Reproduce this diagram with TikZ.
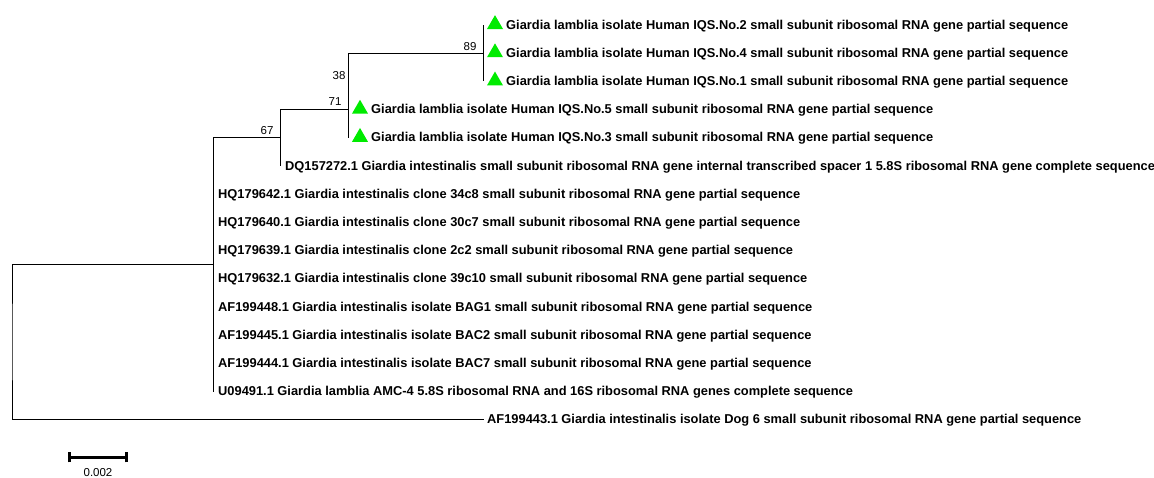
\documentclass[tikz,border=0pt]{standalone}
\usepackage{fontspec}
\setmainfont{Liberation Sans}
\usetikzlibrary{shapes.geometric}
\definecolor{marker}{RGB}{0,235,0}
\begin{document}
\begin{tikzpicture}[x=1pt,y=-1pt,
  branch/.style={line width=0.9pt, black},
  leaf/.style={anchor=base west, inner sep=0pt, font=\fontsize{12.85}{14}\selectfont\bfseries},
  boot/.style={inner sep=0pt, font=\fontsize{11.5}{12}\selectfont},
  tri/.style={regular polygon, regular polygon sides=3, minimum size=18.5pt, inner sep=0pt, fill=marker, draw=none},
  sbar/.style={line width=2.7pt, black}]
\useasboundingbox (0,0) rectangle (1154,477);

% leaf attach points
\coordinate (a0) at (483,25);
\coordinate (a1) at (483,53.2);
\coordinate (a2) at (483,81.4);
\coordinate (a3) at (348,109.6);
\coordinate (a4) at (348,137.8);
\coordinate (a5) at (280,166);
\coordinate (a6) at (213,194.2);
\coordinate (a13) at (213,391.6);
\coordinate (a14) at (484,419.8);

% internal nodes
\coordinate (n89) at (483,53.2);
\coordinate (n38) at (348,109.6);
\coordinate (n71) at (280,137.5);
\coordinate (n67) at (213,264.3);
\coordinate (R) at (12,342);

% branches
\draw[branch] (a0) -- (a2);
\draw[branch] (n89) -| (a4);
\draw[branch] (n38) -| (a5);
\draw[branch] (n71) -| (a13);
\draw[branch] (n67) -| (R) |- (a14);

% bootstrap values
\node[boot] (b89) at (470,47) {89};
\node[boot] (b38) at (339,75.5) {38};
\node[boot] (b71) at (335,102) {71};
\node[boot] (b67) at (267,131) {67};

% markers
\node[tri] (t0) at (495,24.4) {};
\node[tri] (t1) at (495,52.6) {};
\node[tri] (t2) at (495,80.8) {};
\node[tri] (t3) at (360,109) {};
\node[tri] (t4) at (360,137.2) {};

% leaf labels
\node[leaf] (l0) at (506,29) {Giardia lamblia isolate Human IQS.No.2 small subunit ribosomal RNA gene partial sequence};
\node[leaf] (l1) at (506,57.2) {Giardia lamblia isolate Human IQS.No.4 small subunit ribosomal RNA gene partial sequence};
\node[leaf] (l2) at (506,85.4) {Giardia lamblia isolate Human IQS.No.1 small subunit ribosomal RNA gene partial sequence};
\node[leaf] (l3) at (371,113.6) {Giardia lamblia isolate Human IQS.No.5 small subunit ribosomal RNA gene partial sequence};
\node[leaf] (l4) at (371,141.8) {Giardia lamblia isolate Human IQS.No.3 small subunit ribosomal RNA gene partial sequence};
\node[leaf] (l5) at (285,170) {DQ157272.1 Giardia intestinalis small subunit ribosomal RNA gene internal transcribed spacer 1 5.8S ribosomal RNA gene complete sequence};
\node[leaf] (l6) at (218,198.2) {HQ179642.1 Giardia intestinalis clone 34c8 small subunit ribosomal RNA gene partial sequence};
\node[leaf] (l7) at (218,226.4) {HQ179640.1 Giardia intestinalis clone 30c7 small subunit ribosomal RNA gene partial sequence};
\node[leaf] (l8) at (218,254.6) {HQ179639.1 Giardia intestinalis clone 2c2 small subunit ribosomal RNA gene partial sequence};
\node[leaf] (l9) at (218,282.8) {HQ179632.1 Giardia intestinalis clone 39c10 small subunit ribosomal RNA gene partial sequence};
\node[leaf] (l10) at (218,311) {AF199448.1 Giardia intestinalis isolate BAG1 small subunit ribosomal RNA gene partial sequence};
\node[leaf] (l11) at (218,339.2) {AF199445.1 Giardia intestinalis isolate BAC2 small subunit ribosomal RNA gene partial sequence};
\node[leaf] (l12) at (218,367.4) {AF199444.1 Giardia intestinalis isolate BAC7 small subunit ribosomal RNA gene partial sequence};
\node[leaf] (l13) at (218,395.6) {U09491.1 Giardia lamblia AMC-4 5.8S ribosomal RNA and 16S ribosomal RNA genes complete sequence};
\node[leaf] (l14) at (487,423.8) {AF199443.1 Giardia intestinalis isolate Dog 6 small subunit ribosomal RNA gene partial sequence};

% scale bar
\coordinate (sbL) at (68,457.7);
\coordinate (sbR) at (128,457.7);
\draw[sbar] (sbL) -- (sbR);
\draw[sbar] ([xshift=1.35pt,yshift=-4.7pt]sbL) -- ([xshift=1.35pt,yshift=5.3pt]sbL);
\draw[sbar] ([xshift=-1.35pt,yshift=-4.7pt]sbR) -- ([xshift=-1.35pt,yshift=5.3pt]sbR);
\node[boot] (sblab) at (98,472.2) {0.002};
\end{tikzpicture}
\end{document}
